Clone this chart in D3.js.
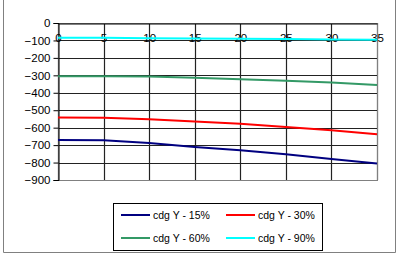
<!DOCTYPE html>
<html>
<head>
<meta charset="utf-8">
<script src="https://cdn.jsdelivr.net/npm/d3@7"></script>
<style>
  body { margin: 0; background: #fff; }
  svg text { font-family: "Liberation Sans", Arial, sans-serif; fill: #000; }
</style>
</head>
<body>
<svg id="chart" width="399" height="254"></svg>
<script>
// chart data
const xValues = [0, 5, 10, 15, 20, 25, 30, 35];
const seriesNames = ['cdg Y - 15%', 'cdg Y - 30%', 'cdg Y - 60%', 'cdg Y - 90%'];
const y15 = [-670, -672, -688, -711, -730, -753, -780, -806];
const y30 = [-542, -543, -552, -565, -577, -596, -615, -638];
const y60 = [-305, -305, -306, -314, -322, -331, -341, -356];
const y90 = [-84, -85, -87, -89, -91, -92, -94, -96];
const seriesColors = ['#000080', '#ff0000', '#339966', '#00ffff'];
const yTicks = [0, -100, -200, -300, -400, -500, -600, -700, -800, -900];

const svg = d3.select('#chart');

// outer frame
svg.append('path')
    .attr('d', 'M3.5,0 V252.5 H395.5 V0')
    .attr('fill', 'none')
    .attr('stroke', '#808080')
    .attr('stroke-width', 1);

const x = d3.scaleLinear().domain([0, 35]).range([58, 377]);
const y = d3.scaleLinear().domain([0, -900]).range([23, 180]);

// horizontal grid
svg.append('g')
    .selectAll('line')
    .data(yTicks)
    .join('line')
    .attr('x1', x(0)).attr('x2', x(35))
    .attr('y1', d => Math.round(y(d)) + 0.5)
    .attr('y2', d => Math.round(y(d)) + 0.5)
    .attr('stroke', '#222')
    .attr('stroke-width', 1.2);

// vertical grid
svg.append('g')
    .selectAll('line')
    .data(xValues)
    .join('line')
    .attr('x1', d => Math.round(x(d)) + 0.5)
    .attr('x2', d => Math.round(x(d)) + 0.5)
    .attr('y1', y(0)).attr('y2', y(-900))
    .attr('stroke', '#222')
    .attr('stroke-width', 1.2);

// plot area border in gray
svg.append('rect')
    .attr('x', Math.round(x(0)) + 0.5)
    .attr('y', Math.round(y(0)) + 0.5)
    .attr('width', Math.round(x(35)) - Math.round(x(0)))
    .attr('height', Math.round(y(-900)) - Math.round(y(0)))
    .attr('fill', 'none')
    .attr('stroke', '#808080');

// y axis
const yAxis = svg.append('g')
    .attr('transform', `translate(${Math.round(x(0)) + 0.5},0)`)
    .call(d3.axisLeft(y).tickValues(yTicks).tickSize(5).tickFormat(d3.format('d')));
yAxis.select('.domain').attr('stroke', '#000');
yAxis.selectAll('.tick line').attr('stroke', '#000');
yAxis.selectAll('text').style('font-size', '11.5px').attr('x', -8);

// x axis on the zero line, labels below it
const xAxis = svg.append('g')
    .attr('transform', `translate(0,${Math.round(y(0)) + 0.5})`)
    .call(d3.axisBottom(x).tickValues(xValues).tickSize(0));
xAxis.select('.domain').attr('stroke', '#000');
xAxis.selectAll('text').style('font-size', '11.5px').attr('y', 10);

// series lines
const allSeries = [y15, y30, y60, y90];
const line = d3.line()
    .x((d, i) => x(xValues[i]))
    .y(d => y(d));

svg.append('g')
    .selectAll('path')
    .data(allSeries)
    .join('path')
    .attr('d', d => line(d))
    .attr('fill', 'none')
    .attr('stroke', (d, i) => seriesColors[i])
    .attr('stroke-width', 2);

// legend
const legend = svg.append('g').attr('transform', 'translate(113,203)');
legend.append('rect')
    .attr('x', 0.5).attr('y', 0.5)
    .attr('width', 209).attr('height', 47)
    .attr('fill', '#fff')
    .attr('stroke', '#000');

const item = legend.selectAll('g.item')
    .data(seriesNames)
    .join('g')
    .attr('class', 'item')
    .attr('transform', (d, i) => `translate(${8 + (i % 2) * 105},${12 + Math.floor(i / 2) * 23})`);

item.append('line')
    .attr('x1', 0).attr('x2', 29)
    .attr('y1', 0).attr('y2', 0)
    .attr('stroke', (d, i) => seriesColors[i])
    .attr('stroke-width', 2);

item.append('text')
    .attr('x', 32)
    .attr('y', 0)
    .attr('dy', '0.35em')
    .style('font-size', '10.5px')
    .text(d => d);
</script>
</body>
</html>
